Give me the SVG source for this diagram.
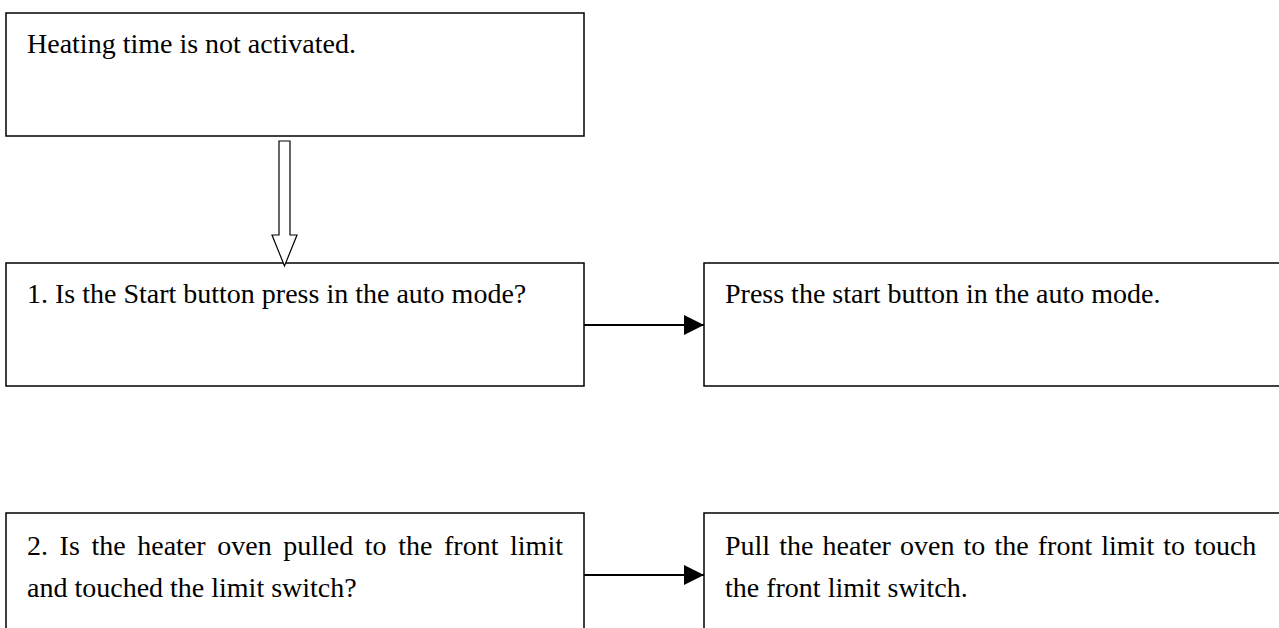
<svg xmlns="http://www.w3.org/2000/svg" width="1279" height="628" viewBox="0 0 1279 628">
<defs>
<style>
.box{fill:#fff;stroke:#000;stroke-width:1.5}
.t{font-family:"Liberation Serif","Times New Roman",serif;font-size:28px;fill:#000}
.c{stroke:#000;stroke-width:2;fill:none}
</style>
<marker id="ah" markerWidth="20" markerHeight="20" refX="20" refY="10" orient="auto" markerUnits="userSpaceOnUse">
<path d="M0,0 L20,10 L0,20 Z" fill="#000"/>
</marker>
</defs>
<rect width="1279" height="628" fill="#fff"/>
<g id="n0"><rect class="box" x="6" y="13" width="578" height="123"/><text class="t" x="27" y="53">Heating time is not activated.</text></g>
<g id="n1"><rect class="box" x="6" y="263" width="578" height="123"/><text class="t" x="27" y="303">1. Is the Start button press in the auto mode?</text></g>
<g id="n2"><rect class="box" x="704" y="263" width="580" height="123"/><text class="t" x="725" y="303">Press the start button in the auto mode.</text></g>
<g id="n3"><rect class="box" x="6" y="513" width="578" height="130"/><text class="t" x="27" y="555" word-spacing="4.6">2. Is the heater oven pulled to the front limit</text><text class="t" x="27" y="597">and touched the limit switch?</text></g>
<g id="n4"><rect class="box" x="704" y="513" width="580" height="130"/><text class="t" x="725" y="555" word-spacing="2.1">Pull the heater oven to the front limit to touch</text><text class="t" x="725" y="597">the front limit switch.</text></g>
<g id="connectors">
<path d="M279,141 L290,141 L290,235 L297,235 L284.5,266 L272,235 L279,235 Z" fill="#fff" stroke="#000" stroke-width="1.2"/>
<line class="c" x1="584" y1="325" x2="704" y2="325" marker-end="url(#ah)"/>
<line class="c" x1="584" y1="575" x2="704" y2="575" marker-end="url(#ah)"/>
</g>
</svg>
